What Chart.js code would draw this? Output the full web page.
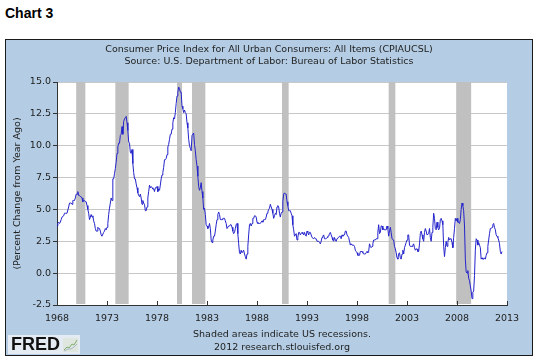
<!DOCTYPE html>
<html>
<head>
<meta charset="utf-8">
<script src="https://cdn.jsdelivr.net/npm/chart.js@4.4.1/dist/chart.umd.min.js"></script>
<style>
  body { margin: 0; width: 536px; height: 359px; background: #fff; position: relative; overflow: hidden; font-family: "DejaVu Sans", sans-serif; }
  .heading { position: absolute; left: 5px; top: 5px; font: bold 14px "Liberation Sans", sans-serif; color: #000; }
  .panel { position: absolute; left: 5px; top: 39px; width: 526px; height: 315px; background: #b4cde4; border: 1px solid #1a1a1a; }
  .panel canvas { position: absolute; left: 0; top: 0; }
  .titles { position: absolute; left: 0; top: 3px; width: 526px; text-align: center; font-size: 9.5px; line-height: 12px; color: #222; }
  .notes { position: absolute; left: 126px; top: 287px; width: 300px; text-align: center; font-size: 9.5px; line-height: 13px; color: #222; }
  .logo { position: absolute; left: 2px; top: 295px; width: 72px; height: 19px; background: #e4ebf2; }
  .logo span { position: absolute; left: 3px; top: 0px; font: bold 18px/19px "Liberation Sans", sans-serif; color: #111; }
  .logo svg { position: absolute; left: 55px; top: 3px; }
</style>
</head>
<body>
<div class="heading">Chart 3</div>
<div class="panel">
  <canvas class="cpi" width="526" height="315"></canvas>
  <div class="titles">Consumer Price Index for All Urban Consumers: All Items (CPIAUCSL)<br>Source: U.S. Department of Labor: Bureau of Labor Statistics</div>
  <div class="notes">Shaded areas indicate US recessions.<br>2012 research.stlouisfed.org</div>
  <div class="logo"><span>FRED</span>
    <svg width="15" height="14"><rect width="15" height="14" fill="#dfe6df"/><polyline points="1,12 4,9 6,10 9,6 11,7 14,2" fill="none" stroke="#7fae6f" stroke-width="1"/><polyline points="1,13 5,11 8,11 11,9 14,6" fill="none" stroke="#a9b8c9" stroke-width="1"/></svg>
  </div>
</div>
<script>
// monthly, percent change from year ago, starting Jan 1968
const START_YEAR = 1968;
const CPI_CHANGE = [
  3.7, 3.9, 4.0, 3.9, 4.0, 4.2, 4.4, 4.4, 4.5, 4.7, 4.7, 4.7,
  4.7, 4.7, 5.2, 5.5, 5.5, 5.5, 5.4, 5.7, 5.7, 5.7, 5.9, 6.2,
  6.2, 6.4, 6.1, 6.1, 6.0, 6.0, 5.9, 5.6, 5.7, 5.7, 5.6, 5.6,
  5.3, 5.0, 4.7, 4.2, 4.4, 4.6, 4.4, 4.5, 4.1, 3.9, 3.5, 3.3,
  3.3, 3.6, 3.5, 3.5, 3.3, 3.0, 2.9, 2.9, 3.2, 3.3, 3.5, 3.4,
  3.6, 3.9, 4.6, 5.1, 5.5, 5.9, 5.7, 7.4, 7.4, 7.8, 8.2, 8.7,
  9.4, 9.9, 10.2, 10.2, 10.8, 10.9, 11.5, 10.9, 11.9, 12.1, 12.2, 12.3,
  11.8, 11.2, 10.3, 10.2, 9.5, 9.4, 9.7, 8.6, 7.9, 7.4, 7.4, 7.0,
  6.7, 6.3, 6.1, 6.0, 6.2, 5.9, 5.4, 5.7, 5.5, 5.4, 4.9, 4.9,
  5.2, 5.9, 6.4, 6.9, 6.7, 6.8, 6.7, 6.6, 6.6, 6.4, 6.7, 6.7,
  6.8, 6.4, 6.6, 6.5, 6.9, 7.4, 7.7, 7.9, 8.3, 8.9, 8.9, 9.0,
  9.3, 9.9, 10.1, 10.5, 10.9, 10.9, 11.3, 11.8, 12.2, 12.1, 12.6, 13.3,
  13.9, 14.2, 14.6, 14.5, 14.2, 14.2, 13.1, 12.9, 12.6, 12.8, 12.6, 12.5,
  11.8, 11.4, 10.5, 10.0, 9.8, 9.6, 10.8, 10.8, 11.0, 10.1, 9.6, 8.9,
  8.4, 7.6, 6.8, 6.5, 6.7, 7.1, 6.4, 5.9, 5.0, 5.1, 4.6, 3.8,
  3.7, 3.5, 3.6, 3.9, 3.5, 2.6, 2.4, 2.6, 2.9, 2.9, 3.3, 3.8,
  4.2, 4.6, 4.8, 4.6, 4.2, 4.2, 4.2, 4.3, 4.3, 4.3, 4.1, 3.9,
  3.5, 3.5, 3.7, 3.7, 3.8, 3.8, 3.6, 3.3, 3.1, 3.2, 3.5, 3.8,
  3.9, 3.1, 2.3, 1.6, 1.5, 1.8, 1.6, 1.6, 1.8, 1.5, 1.3, 1.1,
  1.5, 2.1, 3.0, 3.8, 3.9, 3.7, 3.9, 4.3, 4.3, 4.5, 4.5, 4.4,
  4.0, 3.9, 3.9, 3.9, 3.9, 4.0, 4.1, 4.0, 4.2, 4.2, 4.2, 4.4,
  4.7, 4.8, 5.0, 5.1, 5.4, 5.2, 5.0, 4.7, 4.3, 4.5, 4.7, 4.6,
  5.2, 5.3, 5.2, 4.7, 4.4, 4.7, 4.8, 5.6, 6.2, 6.3, 6.2, 6.2,
  5.6, 5.3, 4.9, 4.9, 4.9, 4.7, 4.5, 3.8, 3.4, 2.9, 3.0, 3.1,
  2.6, 2.8, 3.2, 3.2, 3.0, 3.1, 3.2, 3.1, 3.0, 3.2, 3.0, 2.9,
  3.3, 3.2, 3.0, 3.2, 3.2, 3.0, 2.8, 2.8, 2.7, 2.8, 2.7, 2.7,
  2.5, 2.5, 2.5, 2.4, 2.3, 2.5, 2.8, 2.9, 3.0, 2.7, 2.7, 2.7,
  2.8, 2.9, 2.9, 3.1, 3.2, 3.0, 2.8, 2.6, 2.5, 2.8, 2.6, 2.5,
  2.7, 2.7, 2.8, 2.9, 2.9, 2.7, 3.0, 2.9, 3.0, 3.0, 3.3, 3.3,
  3.0, 3.0, 2.8, 2.5, 2.2, 2.3, 2.2, 2.2, 2.2, 2.1, 1.8, 1.7,
  1.6, 1.4, 1.4, 1.4, 1.7, 1.7, 1.7, 1.6, 1.5, 1.5, 1.5, 1.6,
  1.7, 1.6, 1.7, 2.3, 2.1, 2.0, 2.1, 2.3, 2.6, 2.6, 2.6, 2.7,
  2.7, 3.2, 3.8, 3.1, 3.2, 3.7, 3.7, 3.4, 3.5, 3.4, 3.4, 3.4,
  3.7, 3.5, 2.9, 3.3, 3.6, 3.2, 2.7, 2.7, 2.6, 2.1, 1.9, 1.6,
  1.2, 1.1, 1.5, 1.6, 1.2, 1.1, 1.5, 1.8, 1.5, 2.0, 2.2, 2.4,
  2.6, 3.0, 3.0, 2.2, 2.1, 2.1, 2.1, 2.2, 2.3, 2.0, 1.8, 1.9,
  1.9, 1.7, 1.7, 2.3, 3.1, 3.3, 3.0, 2.7, 2.5, 3.2, 3.5, 3.3,
  3.0, 3.0, 3.1, 3.5, 2.8, 2.5, 3.2, 3.6, 4.7, 4.3, 3.5, 3.4,
  4.0, 3.6, 3.4, 3.5, 4.2, 4.3, 4.1, 3.8, 2.1, 1.3, 2.0, 2.5,
  2.1, 2.4, 2.8, 2.6, 2.7, 2.7, 2.4, 2.0, 2.8, 3.5, 4.3, 4.1,
  4.3, 4.0, 4.0, 3.9, 4.2, 5.0, 5.5, 5.3, 4.9, 3.7, 1.1, 0.1,
  0.0, 0.2, -0.4, -0.6, -1.0, -1.4, -2.0, -1.5, -1.4, -0.2, 1.8, 2.7,
  2.6, 2.2, 2.4, 2.2, 2.0, 1.1, 1.2, 1.1, 1.1, 1.2, 1.1, 1.4,
  1.6, 2.1, 2.6, 3.1, 3.5, 3.5, 3.6, 3.8, 3.9, 3.6, 3.4, 3.0,
  2.9, 2.8, 2.6, 2.3, 1.7, 1.5, 1.7
];

// NBER recessions, peak month to trough month, as decimal years
const RECESSION_START = [1969 + 11 / 12, 1973 + 10 / 12, 1980, 1981 + 6 / 12, 1990 + 6 / 12, 2001 + 2 / 12, 2007 + 11 / 12];
const RECESSION_END = [1970 + 10 / 12, 1975 + 2 / 12, 1980 + 6 / 12, 1982 + 10 / 12, 1991 + 2 / 12, 2001 + 10 / 12, 2009 + 5 / 12];

const X_TICKS = [1968, 1973, 1978, 1983, 1988, 1993, 1998, 2003, 2008, 2013];
const Y_TICKS = [-2.5, 0, 2.5, 5, 7.5, 10, 12.5, 15];

const TICK_FONT = { family: 'DejaVu Sans', size: 9.5 };

const RECESSIONS = {
  id: 'recessions',
  beforeDraw(chart) {
    const { ctx, chartArea } = chart;
    ctx.save();
    ctx.fillStyle = '#fff';
    ctx.fillRect(chartArea.left, chartArea.top, chartArea.right - chartArea.left, chartArea.bottom - chartArea.top);
    ctx.restore();
  },
  beforeDatasetsDraw(chart) {
    const { ctx, chartArea, scales: { x } } = chart;
    ctx.save();
    ctx.fillStyle = '#c0c0c0';
    RECESSION_START.forEach((start, i) => {
      const x1 = x.getPixelForValue(start);
      const x2 = x.getPixelForValue(RECESSION_END[i]);
      ctx.fillRect(x1, chartArea.top, x2 - x1, chartArea.bottom - chartArea.top - 1);
    });
    ctx.restore();
  },
  afterDraw(chart) {
    // FRED puts the year ticks inside the plot, pointing up
    const { ctx, chartArea, scales: { x } } = chart;
    ctx.save();
    ctx.strokeStyle = '#333';
    ctx.lineWidth = 1;
    X_TICKS.forEach(v => {
      const px = Math.round(x.getPixelForValue(v)) + 0.5;
      ctx.beginPath();
      ctx.moveTo(px, chartArea.bottom);
      ctx.lineTo(px, chartArea.bottom - 4);
      ctx.stroke();
    });
    ctx.restore();
  }
};

const CPI_CHART = new Chart(document.querySelector('.cpi'), {
  type: 'line',
  data: {
    datasets: [{
      data: CPI_CHANGE.map((v, i) => ({ x: START_YEAR + i / 12, y: v })),
      borderColor: '#2424cc',
      borderWidth: 1,
      pointRadius: 0,
      fill: false,
      tension: 0
    }]
  },
  options: {
    responsive: false,
    animation: false,
    layout: { padding: { top: 42, right: 25, left: 0, bottom: 0 } },
    plugins: { legend: { display: false }, tooltip: { enabled: false } },
    scales: {
      x: {
        type: 'linear',
        min: 1968,
        max: 2013,
        afterBuildTicks: s => { s.ticks = X_TICKS.map(v => ({ value: v })); },
        afterFit: s => { s.height = 50; },
        grid: { display: false },
        border: { display: true, color: '#333' },
        ticks: { padding: 0, color: '#222', font: TICK_FONT, maxRotation: 0, autoSkip: false, callback: v => String(v) }
      },
      y: {
        min: -2.5,
        max: 15,
        afterBuildTicks: s => { s.ticks = Y_TICKS.map(v => ({ value: v })); },
        afterFit: s => { s.width = 51; },
        grid: { color: '#c8c8c8', tickColor: '#333', tickLength: 4 },
        border: { color: '#333' },
        ticks: { padding: 2, color: '#222', font: TICK_FONT, callback: v => v.toFixed(1) },
        title: { display: true, text: '(Percent Change from Year Ago)', color: '#222', font: { family: 'DejaVu Sans', size: 9.5 }, padding: { top: 6, bottom: 0 } }
      }
    }
  },
  plugins: [RECESSIONS]
});
</script>
</body>
</html>
